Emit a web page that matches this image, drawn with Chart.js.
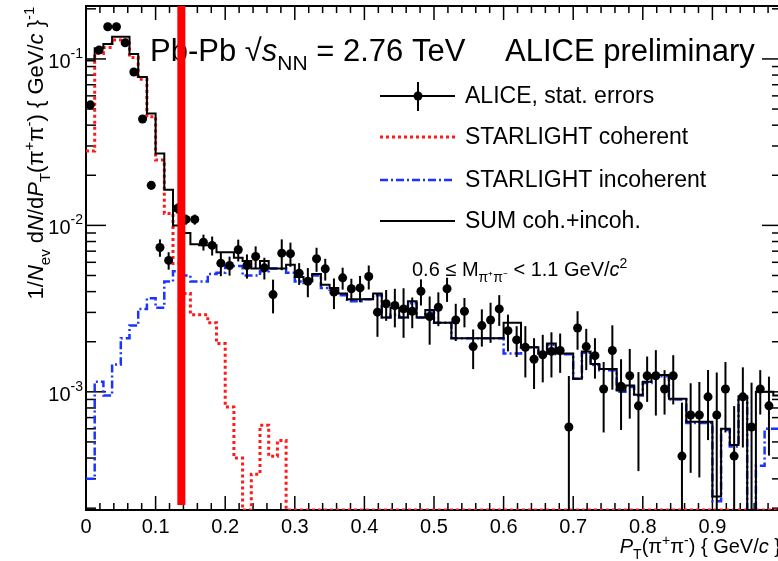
<!DOCTYPE html>
<html>
<head>
<meta charset="utf-8">
<script src="https://cdn.jsdelivr.net/npm/chart.js@4.4.0/dist/chart.umd.min.js"></script>
<style>
html, body { margin: 0; padding: 0; overflow: hidden; background: #fff; }
canvas { display: block; }
</style>
</head>
<body>
<canvas id="ptChart" width="790" height="561"></canvas>
<script>

// pT bins of 0.0125 GeV/c, 0 .. 1
var BIN_W = 0.0125;
var Y_MIN = 1.95e-4;
var Y_MAX = 0.208;

// ALICE points and stat. errors, one per bin
var dataVals = [0.053, 0.113, 0.156, 0.156, 0.125, 0.0835, 0.0436, 0.0174, 0.00736, 0.00616,
  0.01265, 0.01086, 0.01086, 0.00793, 0.00758, 0.00593, 0.00574, 0.00714, 0.00574, 0.0065,
  0.00556, 0.00384, 0.00681, 0.00676, 0.00516, 0.00462, 0.0063, 0.00548, 0.00397, 0.00484,
  0.00416, 0.00421, 0.00493, 0.00301, 0.00338, 0.0033, 0.00315, 0.00305, 0.00402, 0.00283,
  0.00322, 0.00416, 0.0027, 0.00305, 0.00187, 0.0025, 0.0027, 0.00315, 0.00233, 0.00205,
  0.00185, 0.00157, 0.00167, 0.00175, 0.00177, 0.000615, 0.00242, 0.00187, 0.00165, 0.00104,
  0.00177, 0.00108, 0.00125, 0.000824, 0.00125, 0.00125, 0.00104, 0.00125, 0.000411, 0.000726,
  0.000726, 0.000933, 0.000726, 0.00104, 0.000411, 0.000933, 0.000615, 0.00104, 0.000824, null];

var dataErr = [0.0027, 0.0034, 0.0047, 0.0047, 0.0038, 0.0029, 0.0017, 0.001, 0.00088, 0.00074,
  0.00089, 0.00076, 0.00076, 0.00087, 0.00099, 0.00098, 0.00075, 0.00107, 0.00095, 0.00098,
  0.00083, 0.00088, 0.00143, 0.00112, 0.00077, 0.00092, 0.00104, 0.00082, 0.00083, 0.00073,
  0.00062, 0.00076, 0.00081, 0.00087, 0.00071, 0.00086, 0.00104, 0.00064, 0.00072, 0.00091,
  0.00074, 0.00069, 0.00068, 0.00061, 0.0005, 0.00063, 0.00073, 0.00066, 0.00058, 0.00043,
  0.00063, 0.00053, 0.00053, 0.00053, 0.00047, 0.00063, 0.00063, 0.00052, 0.00045, 0.00047,
  0.00074, 0.00049, 0.00056, 0.00049, 0.00038, 0.00053, 0.00031, 0.00041, 0.00045, 0.0004,
  0.00042, 0.00042, 0.00058, 0.00047, 0.00041, 0.00047, 0.00052, 0.00031, 0.00041, null];

// STARLIGHT histograms (0 = empty bin)
var cohVals = [0.028, 0.108, 0.117, 0.13, 0.13, 0.102, 0.0755, 0.045, 0.0247, 0.0118,
  0.0059, 0.0039, 0.0029, 0.0029, 0.0026, 0.00195, 0.00081, 0.0004, 0, 0.00032,
  0.00063, 0.00041, 0.00051, 0, 0, 0, 0, 0, 0, 0,
  0, 0, 0, 0, 0, 0, 0, 0, 0, 0,
  0, 0, 0, 0, 0, 0, 0, 0, 0, 0,
  0, 0, 0, 0, 0, 0, 0, 0, 0, 0,
  0, 0, 0, 0, 0, 0, 0, 0, 0, 0,
  0, 0, 0, 0, 0, 0, 0, 0, 0, 0];

var incohVals = [0.0003, 0.00115, 0.00095, 0.00146, 0.0021, 0.0025, 0.00315, 0.00365, 0.0032, 0.0046,
  0.0053, 0.0050, 0.0046, 0.0046, 0.0051, 0.0052, 0.0057, 0.0057, 0.0050, 0.0050,
  0.0053, 0.0055, 0.0055, 0.0052, 0.0046, 0.0045, 0.0050, 0.0042, 0.0041, 0.0038,
  0.0035, 0.0035, 0.0036, 0.0038, 0.0028, 0.0029, 0.0028, 0.0034, 0.0028, 0.0030,
  0.0026, 0.0026, 0.0021, 0.0021, 0.0021, 0.0021, 0.0021, 0.0021, 0.0017, 0.0017,
  0.00185, 0.00185, 0.0017, 0.00192, 0.00168, 0.00168, 0.0012, 0.00172, 0.00145, 0.00135,
  0.00135, 0.0010, 0.00107, 0.00095, 0.00113, 0.00124, 0.00124, 0.0009, 0.0009, 0.00065,
  0.00065, 0.00065, 0.00022, 0.00059, 0.00047, 0.00092, 0, 0.00036, 0.0006, 0.0006];

var sumVals = [0.098, 0.116, 0.123, 0.136, 0.136, 0.107, 0.078, 0.047, 0.027, 0.0164,
  0.0100, 0.0090, 0.0077, 0.0076, 0.0076, 0.0069, 0.0069, 0.0064, 0.0061, 0.0055,
  0.0061, 0.0055, 0.0055, 0.0058, 0.0049, 0.0046, 0.0051, 0.0044, 0.0042, 0.0039,
  0.0036, 0.0036, 0.0036, 0.0039, 0.0028, 0.0032, 0.0028, 0.0035, 0.0028, 0.0031,
  0.0026, 0.0026, 0.0021, 0.0021, 0.0021, 0.0021, 0.0021, 0.0021, 0.0026, 0.0026,
  0.00185, 0.00185, 0.0017, 0.00195, 0.0017, 0.0017, 0.0012, 0.00175, 0.00147, 0.00137,
  0.00137, 0.00102, 0.00109, 0.00096, 0.00115, 0.00126, 0.00126, 0.00091, 0.00091, 0.00066,
  0.00066, 0.00066, 0.000235, 0.0006, 0.00048, 0.00094, 0, 0.001, 0.001, 0.00095];

// red marker line
var markX = 0.137;
var markYBottom = 2.09e-4;

var xTickVals = [0, 0.1, 0.2, 0.3, 0.4, 0.5, 0.6, 0.7, 0.8, 0.9];
var xTickLabels = ['0', '0.1', '0.2', '0.3', '0.4', '0.5', '0.6', '0.7', '0.8', '0.9'];
var yTickVals = [1e-3, 1e-2, 1e-1];
var yTickExp = ['-3', '-2', '-1'];

var FONT = '"Liberation Sans", Arial, Helvetica, sans-serif';

function histPoints(vals) {
  var pts = [];
  for (var i = 0; i < vals.length; i++) {
    pts.push({x: i * BIN_W, y: vals[i] > 0 ? vals[i] : Y_MIN});
  }
  pts.push({x: vals.length * BIN_W, y: pts[pts.length - 1].y});
  return pts;
}

var dataPts = [];
dataVals.forEach(function (v, i) {
  if (v != null) dataPts.push({x: (i + 0.5) * BIN_W, y: v});
});

function fontFor(p, size) {
  var s = (p.sub || p.sup) ? Math.round(size * 0.68) : size;
  return (p.it ? 'italic ' : '') + s + 'px ' + FONT;
}

function richText(ctx, parts, x, y, size, align) {
  var w = 0;
  parts.forEach(function (p) { ctx.font = fontFor(p, size); w += ctx.measureText(p.t).width; });
  var cx = x;
  if (align === 'right') cx = x - w;
  if (align === 'center') cx = x - w / 2;
  ctx.textAlign = 'left';
  ctx.textBaseline = 'alphabetic';
  parts.forEach(function (p) {
    ctx.font = fontFor(p, size);
    var dy = p.sub ? size * 0.3 : (p.sup ? -size * 0.42 : 0);
    ctx.fillText(p.t, cx, y + dy);
    cx += ctx.measureText(p.t).width;
  });
}

function seg(ctx, x1, y1, x2, y2) {
  ctx.beginPath(); ctx.moveTo(x1, y1); ctx.lineTo(x2, y2); ctx.stroke();
}

var frame = {
  id: 'frame',
  beforeDatasetsDraw: function (chart) {
    var ctx = chart.ctx, a = chart.chartArea, xs = chart.scales.x, ys = chart.scales.y;
    ctx.save();
    ctx.fillStyle = '#000';
    ctx.strokeStyle = '#000';

    // ticks
    ctx.lineWidth = 1.5;
    for (var k = 0; k <= 50; k++) {
      var px = xs.getPixelForValue(k * 0.02);
      var len = (k % 5 === 0) ? 14 : 7;
      seg(ctx, px, a.bottom, px, a.bottom - len);
      seg(ctx, px, a.top, px, a.top + len);
    }
    for (var d = -4; d <= -1; d++) {
      for (var m = 1; m <= 9; m++) {
        var v = m * Math.pow(10, d);
        if (v < Y_MIN || v > Y_MAX) continue;
        var py = ys.getPixelForValue(v);
        var l = (m === 1) ? 20 : 10;
        seg(ctx, a.left, py, a.left + l, py);
        seg(ctx, a.right, py, a.right - l, py);
      }
    }
    ctx.lineWidth = 2;
    ctx.strokeRect(a.left, a.top, a.right - a.left, a.bottom - a.top);

    // tick labels
    ctx.font = '20px ' + FONT;
    ctx.textAlign = 'center';
    ctx.textBaseline = 'alphabetic';
    xTickVals.forEach(function (v, i) {
      ctx.fillText(xTickLabels[i], xs.getPixelForValue(v), 533);
    });
    yTickVals.forEach(function (v, i) {
      var py = ys.getPixelForValue(v);
      ctx.font = '14px ' + FONT;
      var sw = ctx.measureText(yTickExp[i]).width;
      ctx.textAlign = 'left';
      ctx.fillText(yTickExp[i], 83 - sw, py - 1);
      ctx.font = '20px ' + FONT;
      ctx.textAlign = 'right';
      ctx.fillText('10', 83 - sw, py + 9);
    });

    // axis titles
    richText(ctx, [{t: 'P', it: true}, {t: 'T', sub: true}, {t: '(\u03c0'}, {t: '+', sup: true},
      {t: '\u03c0'}, {t: '-', sup: true}, {t: ') { GeV/'}, {t: 'c', it: true}, {t: ' }'}], 781, 553, 20, 'right');

    ctx.save();
    ctx.translate(43, 153);
    ctx.rotate(-Math.PI / 2);
    richText(ctx, [{t: '1/'}, {t: 'N', it: true}, {t: 'ev', sub: true}, {t: ' d'}, {t: 'N', it: true},
      {t: '/d'}, {t: 'P', it: true}, {t: 'T', sub: true}, {t: '(\u03c0'}, {t: '+', sup: true},
      {t: '\u03c0'}, {t: '-', sup: true}, {t: ') { GeV/'}, {t: 'c', it: true}, {t: ' }'},
      {t: '-1', sup: true}], 0, 0, 22, 'center');
    ctx.restore();

    // header
    richText(ctx, [{t: 'Pb-Pb '}, {t: '\u221a'}, {t: 's', it: true}, {t: 'NN', sub: true},
      {t: ' = 2.76 TeV'}], 150, 61, 31, 'left');
    ctx.font = '31px ' + FONT;
    ctx.textAlign = 'left';
    ctx.fillText('ALICE preliminary', 505, 61);

    // mass window
    richText(ctx, [{t: '0.6 \u2264 M'}, {t: '\u03c0\u207a\u03c0\u207b', sub: true}, {t: ' < 1.1 GeV/'},
      {t: 'c', it: true}, {t: '2', sup: true}], 412, 276, 20, 'left');

    // legend
    var lx1 = 380, lx2 = 455, tx = 465;
    ctx.font = '23px ' + FONT;
    ctx.textAlign = 'left';
    ctx.textBaseline = 'middle';
    ctx.lineWidth = 2;
    ctx.strokeStyle = '#000';
    seg(ctx, lx1, 96, lx2, 96);
    seg(ctx, 418, 82, 418, 111);
    ctx.beginPath(); ctx.arc(418, 96, 4.5, 0, Math.PI * 2); ctx.fill();
    ctx.fillText('ALICE, stat. errors', tx, 97);

    ctx.strokeStyle = '#ff1a1a'; ctx.lineWidth = 3; ctx.setLineDash([3, 3]);
    seg(ctx, lx1, 137, lx2, 137);
    ctx.fillText('STARLIGHT coherent', tx, 138);

    ctx.strokeStyle = '#1a33ff'; ctx.lineWidth = 2.5; ctx.setLineDash([8, 3, 2, 3]);
    seg(ctx, lx1, 180, lx2, 180);
    ctx.fillText('STARLIGHT incoherent', tx, 181);

    ctx.strokeStyle = '#000'; ctx.lineWidth = 2; ctx.setLineDash([]);
    seg(ctx, lx1, 221, lx2, 221);
    ctx.fillText('SUM coh.+incoh.', tx, 222);

    ctx.restore();
  }
};

var errorBars = {
  id: 'errorBars',
  beforeDatasetDraw: function (chart, args) {
    if (args.index !== 1) return;
    var ctx = chart.ctx, a = chart.chartArea, xs = chart.scales.x, ys = chart.scales.y;
    ctx.save();
    ctx.beginPath();
    ctx.rect(a.left, a.top, a.right - a.left, a.bottom - a.top);
    ctx.clip();
    ctx.strokeStyle = '#000';
    ctx.lineWidth = 2;
    dataVals.forEach(function (v, i) {
      if (v == null) return;
      var px = xs.getPixelForValue((i + 0.5) * BIN_W);
      var lo = Math.max(v - dataErr[i], Y_MIN);
      var hi = v + dataErr[i];
      seg(ctx, px, ys.getPixelForValue(lo), px, ys.getPixelForValue(hi));
    });
    ctx.restore();
  }
};

var ctx = document.getElementById('ptChart').getContext('2d');
var chart = new Chart(ctx, {
  type: 'scatter',
  data: {
    datasets: [
      {
        // red marker
        data: [{x: markX, y: Y_MAX}, {x: markX, y: markYBottom}],
        showLine: true,
        borderColor: '#ff0000',
        borderWidth: 8,
        borderCapStyle: 'butt',
        pointRadius: 0
      },
      {
        data: dataPts,
        showLine: false,
        pointRadius: 4.5,
        pointBackgroundColor: '#000',
        pointBorderWidth: 0
      },
      {
        data: histPoints(sumVals),
        showLine: true,
        stepped: 'before',
        borderColor: '#000',
        borderWidth: 2,
        pointRadius: 0
      },
      {
        data: histPoints(incohVals),
        showLine: true,
        stepped: 'before',
        borderColor: '#1a33ff',
        borderWidth: 2.5,
        borderDash: [8, 3, 2, 3],
        pointRadius: 0
      },
      {
        data: histPoints(cohVals),
        showLine: true,
        stepped: 'before',
        borderColor: '#ff1a1a',
        borderWidth: 3,
        borderDash: [3, 3],
        pointRadius: 0
      }
    ]
  },
  options: {
    responsive: false,
    animation: false,
    devicePixelRatio: 1,
    layout: { padding: { left: 86, top: 6, right: 8, bottom: 51 } },
    plugins: { legend: { display: false }, tooltip: { enabled: false } },
    scales: {
      x: { type: 'linear', min: 0, max: 1, display: false },
      y: { type: 'logarithmic', min: Y_MIN, max: Y_MAX, display: false }
    }
  },
  plugins: [frame, errorBars]
});
</script>
</body>
</html>
